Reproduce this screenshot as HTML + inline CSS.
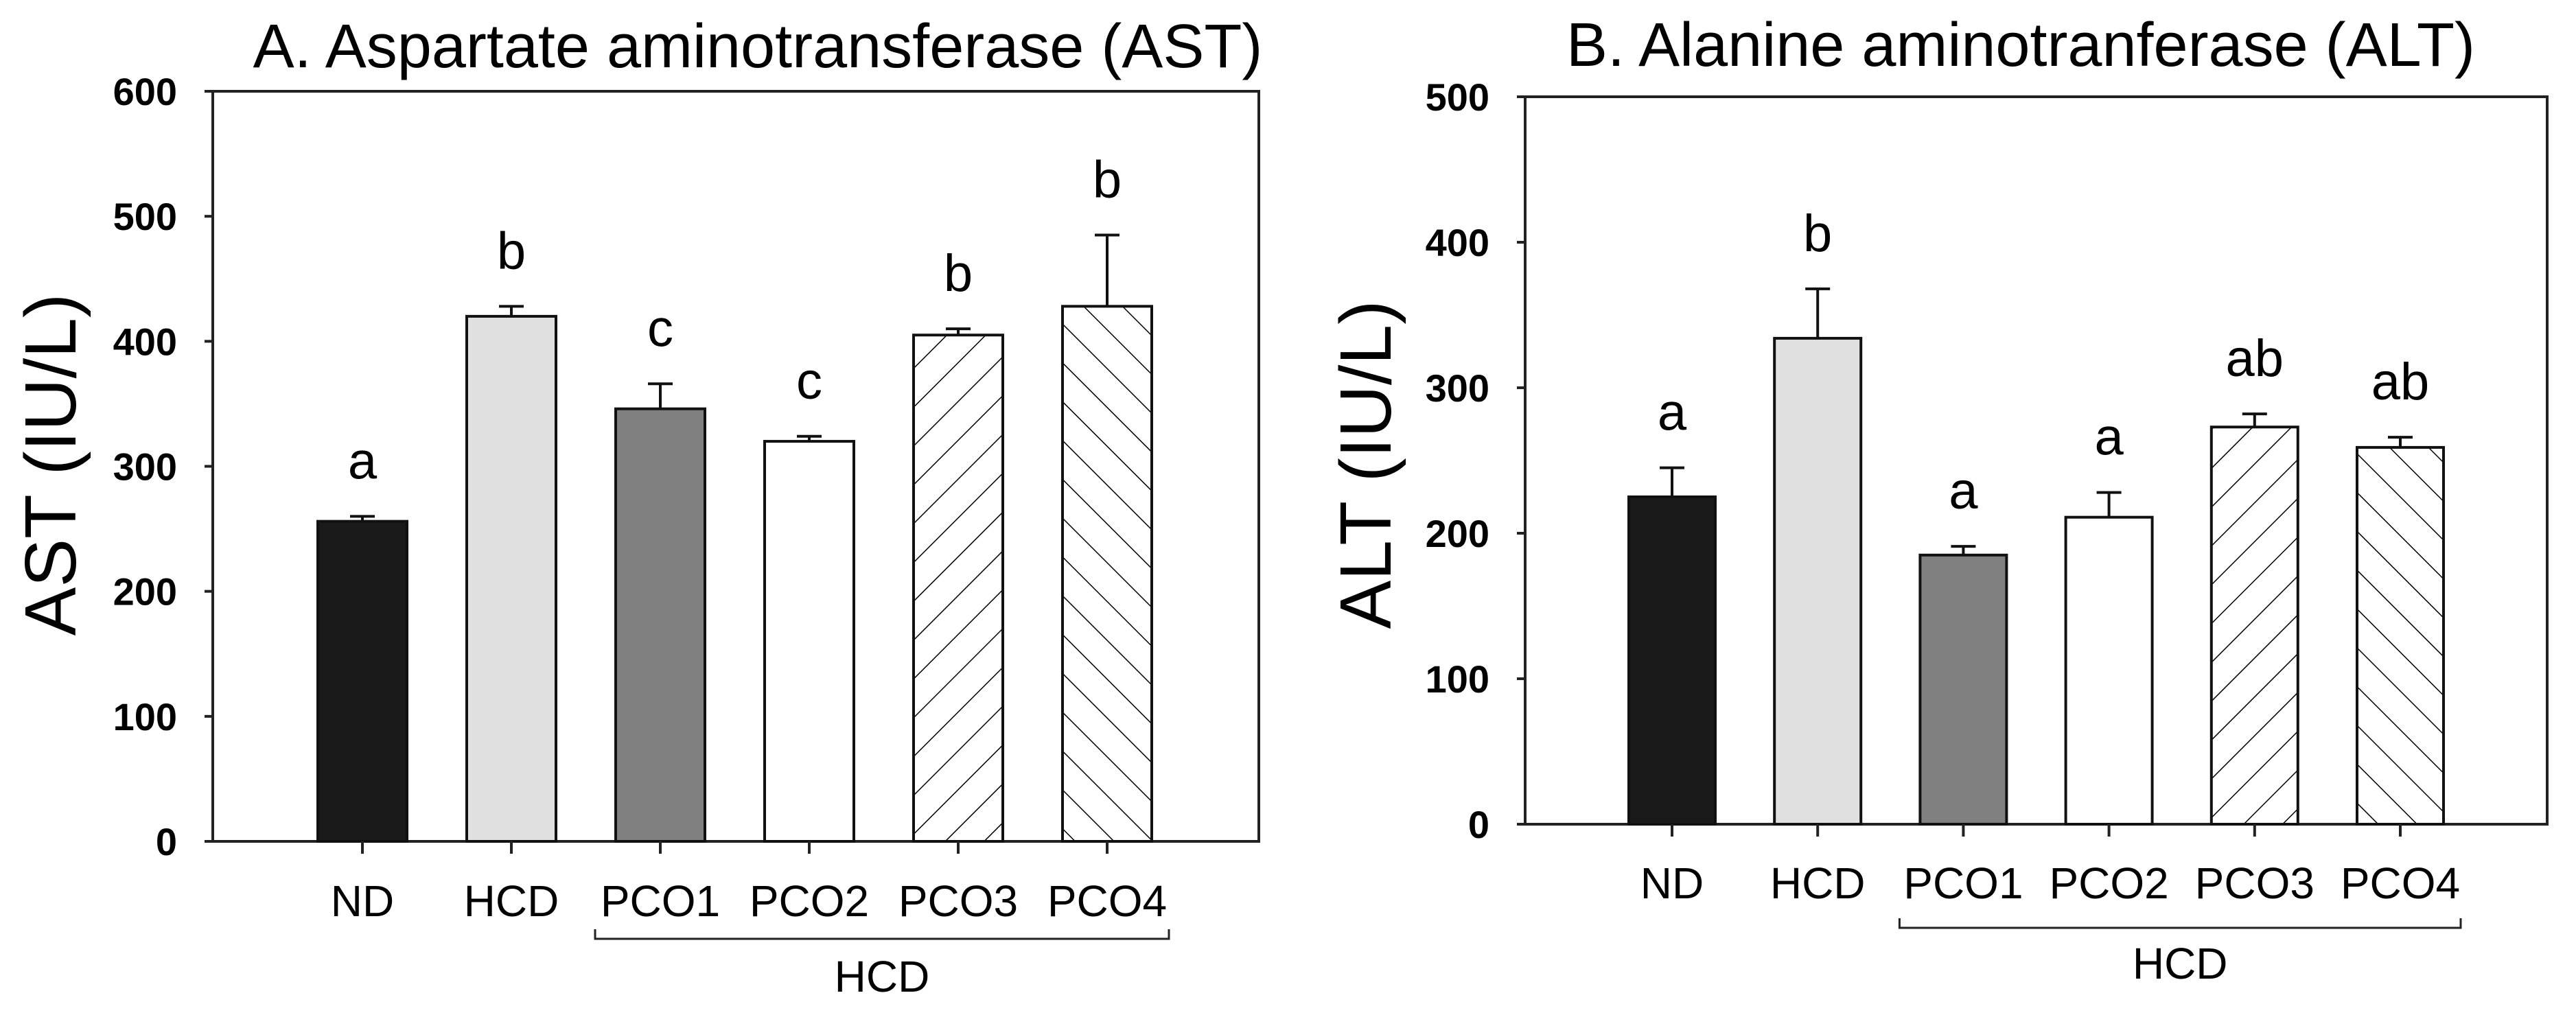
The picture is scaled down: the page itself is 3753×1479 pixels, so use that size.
<!DOCTYPE html>
<html><head><meta charset="utf-8"><style>
html,body{margin:0;padding:0;background:#fff;}
svg{display:block;}
text{font-family:"Liberation Sans",Arial,sans-serif;fill:#000;}
</style></head><body>
<svg id="chart" width="3753" height="1479" viewBox="0 0 3753 1479" xmlns="http://www.w3.org/2000/svg">
<defs>
<pattern id="fwd" patternUnits="userSpaceOnUse" width="40" height="40" patternTransform="rotate(45)"><rect width="40" height="40" fill="#fff"/><line x1="0" y1="0" x2="0" y2="40" stroke="#000" stroke-width="3"/></pattern>
<pattern id="bwd" patternUnits="userSpaceOnUse" width="40" height="40" patternTransform="rotate(-45)"><rect width="40" height="40" fill="#fff"/><line x1="0" y1="0" x2="0" y2="40" stroke="#000" stroke-width="3"/></pattern>
</defs>
</svg>
<script>
const categories = ["ND","HCD","PCO1","PCO2","PCO3","PCO4"];
const astValues = [256,420,346,320,405,428];
const astErrors = [4,8,20,4,5,57];
const astLetters = ["a","b","c","c","b","b"];
const astTicks = [0,100,200,300,400,500,600];
const altValues = [225,334,185,211,273,259];
const altErrors = [20,34,6,17,9,7];
const altLetters = ["a","b","a","a","ab","ab"];
const altTicks = [0,100,200,300,400,500];

const fills = ["#1a1a1a","#e0e0e0","#808080","#ffffff","url(#fwd)","url(#bwd)"];
const NS = "http://www.w3.org/2000/svg";
const svg = document.getElementById('chart');
function mk(tag, attrs, parent){const e=document.createElementNS(NS,tag);for(const k in attrs)e.setAttribute(k,attrs[k]);(parent||svg).appendChild(e);return e;}

function panel(cfg){
  const g = mk('g',{});
  
  
  const yMax = cfg.ticks[cfg.ticks.length-1];
  const y = v => cfg.bottom - (v/yMax)*(cfg.bottom-cfg.top);
  const step = (cfg.lastCenter-cfg.firstCenter)/(categories.length-1);
  const x = i => cfg.firstCenter + i*step;
  const t = mk('text',{x:cfg.titleX,y:cfg.titleY,'font-size':90,'text-anchor':'middle'},g);
  t.textContent = cfg.title;
  
  
  const fr = mk('rect',{x:cfg.left,y:cfg.top,width:cfg.right-cfg.left,height:cfg.bottom-cfg.top,fill:'none',stroke:'#222','stroke-width':4},g);
  
  
  cfg.ticks.forEach(v=>{
    mk('line',{x1:cfg.left-12,x2:cfg.left,y1:y(v),y2:y(v),stroke:'#222','stroke-width':4},g);
    const tl = mk('text',{x:cfg.left-52,y:y(v)+20,'font-size':56,'font-weight':'bold','text-anchor':'end'},g);
    tl.textContent = v;
    
    
  });
  const yt = mk('text',{x:0,y:0,'font-size':106,'text-anchor':'middle',transform:`translate(${cfg.yTitleX},${cfg.yTitleY}) rotate(-90)`},g);
  yt.textContent = cfg.yTitle;
  
  
  categories.forEach((c,i)=>{
    const cx = x(i), w = cfg.barW, v = cfg.values[i], e = cfg.errors[i];
    const b = mk('rect',{x:cx-w/2,y:y(v),width:w,height:cfg.bottom-y(v),fill:fills[i],stroke:'#111','stroke-width':4},g);
    
    
    const eb = mk('path',{d:`M${cx} ${y(v)} V${y(v+e)} M${cx-18} ${y(v+e)} H${cx+18}`,stroke:'#111','stroke-width':4,fill:'none'},g);
    
    
    const lt = mk('text',{x:cx,y:y(v+e)-55,'font-size':76,'text-anchor':'middle'},g);
    lt.textContent = cfg.letters[i];
    
    
    mk('line',{x1:cx,x2:cx,y1:cfg.bottom,y2:cfg.bottom+18,stroke:'#222','stroke-width':4},g);
    const xl = mk('text',{x:cx,y:cfg.xLabelY,'font-size':64,'text-anchor':'middle'},g);
    xl.textContent = c;
    
    
  });
  const bx1 = x(2)-cfg.barW/2-30, bx2 = x(5)+cfg.barW/2+25;
  const br = mk('path',{d:`M${bx1} ${cfg.bracketY-14} V${cfg.bracketY} H${bx2} V${cfg.bracketY-14}`,stroke:'#222','stroke-width':3,fill:'none'},g);
  
  
  const hl = mk('text',{x:(bx1+bx2)/2,y:cfg.groupY,'font-size':64,'text-anchor':'middle'},g);
  hl.textContent = 'HCD';
  
  
}

panel({id:'ast',title:'A. Aspartate aminotransferase (AST)',titleX:1104,titleY:98,
  left:310,right:1834,top:133,bottom:1226,firstCenter:528,lastCenter:1613,barW:130,
  ticks:astTicks,values:astValues,errors:astErrors,letters:astLetters,
  yTitle:'AST (IU/L)',yTitleX:110,yTitleY:677,xLabelY:1335,bracketY:1368,groupY:1445});
panel({id:'alt',title:'B. Alanine aminotranferase (ALT)',titleX:2944,titleY:96,
  left:2222,right:3711,top:141,bottom:1201,firstCenter:2436,lastCenter:3497,barW:126,
  ticks:altTicks,values:altValues,errors:altErrors,letters:altLetters,
  yTitle:'ALT (IU/L)',yTitleX:2026,yTitleY:677,xLabelY:1309,bracketY:1352,groupY:1426});
</script>
</body></html>
